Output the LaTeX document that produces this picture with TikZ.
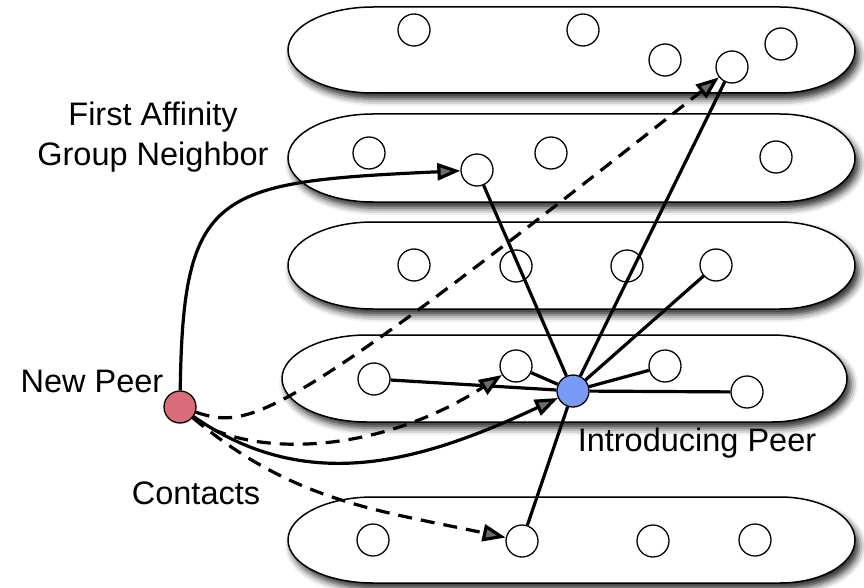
\documentclass[tikz,border=0pt]{standalone}
\usepackage{fontspec}
\setmainfont{Liberation Sans}
\usetikzlibrary{arrows.meta,shadows.blur}

\definecolor{newred}{RGB}{217,108,120}
\definecolor{introblue}{RGB}{122,155,245}

\begin{document}
\begin{tikzpicture}[x=1pt, y=1pt,
	peer/.style = {draw, circle, fill=white, line width=1.3pt, minimum size=32pt, inner sep=0pt},
	group/.style = {draw, fill=white, line width=1.5pt,
		blur shadow={shadow xshift=4pt, shadow yshift=-6pt, shadow blur radius=7pt, shadow opacity=85}},
	link/.style = {line width=3.2pt},
	dlink/.style = {line width=3.2pt, dash pattern=on 14pt off 9pt},
	tip/.style = {-{Triangle[length=23pt,width=17pt]}},
	note/.style = {font=\fontsize{32.5}{40}\selectfont, align=center}]
	\useasboundingbox (0,0) rectangle (864,-588);

	% affinity groups: left, right, top, bottom
	\foreach \l/\r/\t/\b in {288/855/7/93, 288/855/114/202, 288/855/222/309, 282/847/335/422, 288/855/497/583}
		\draw[group] (\l+85,-\t) -- (\r-75,-\t)
			arc[start angle=90, end angle=-90, x radius=75, y radius={(\b-\t)/2}]
			-- (\l+85,-\b)
			arc[start angle=270, end angle=90, x radius=85, y radius={(\b-\t)/2}] -- cycle;

	% peers
	\node[peer] (p11) at (414,-30) {};
	\node[peer] (p12) at (583,-30) {};
	\node[peer] (p13) at (665,-60) {};
	\node[peer] (p14) at (732,-67) {};
	\node[peer] (p15) at (781,-44) {};
	\node[peer] (p21) at (369,-153) {};
	\node[peer] (nbr) at (477,-170) {};
	\node[peer] (p23) at (551,-153) {};
	\node[peer] (p24) at (776,-157) {};
	\node[peer] (p31) at (414,-265) {};
	\node[peer] (p32) at (516,-266) {};
	\node[peer] (p33) at (627,-266) {};
	\node[peer] (p34) at (716,-265) {};
	\node[peer] (p41) at (374,-379) {};
	\node[peer] (p42) at (516,-366) {};
	\node[peer] (p43) at (665,-366) {};
	\node[peer] (p44) at (747,-392) {};
	\node[peer] (p51) at (373,-540) {};
	\node[peer] (p52) at (522,-541) {};
	\node[peer] (p53) at (653,-541) {};
	\node[peer] (p54) at (755,-540) {};
	\node[peer, fill=introblue] (intro) at (573,-391) {};
	\node[peer, fill=newred] (newpeer) at (180,-407) {};

	% text
	\node[note] (nbrtext) at (153,-137) {First Affinity\\Group Neighbor};
	\node[note] (newtext) at (92,-381) {New Peer};
	\node[note] (introtext) at (697,-443) {Introducing Peer};
	\node[note] (contacts) at (196,-493) {Contacts};

	% introducing peer knows these
	\foreach \p in {nbr, p14, p34, p41, p42, p43, p44, p52}
		\draw[link] (intro) -- (\p);

	% new peer joins
	\draw[link, tip] (newpeer) .. controls (183,-190) and (215,-182) .. (nbr);
	\draw[link, tip] (newpeer) to[out=-35, in=205] (intro);
	\draw[dlink, tip] (newpeer) .. controls (250,-430) and (280,-425) .. (p14);
	\draw[dlink, tip] (newpeer) .. controls (240,-455) and (370,-460) .. (p42);
	\draw[dlink, tip] (newpeer) to[out=-40, in=168] (p52);
\end{tikzpicture}
\end{document}
